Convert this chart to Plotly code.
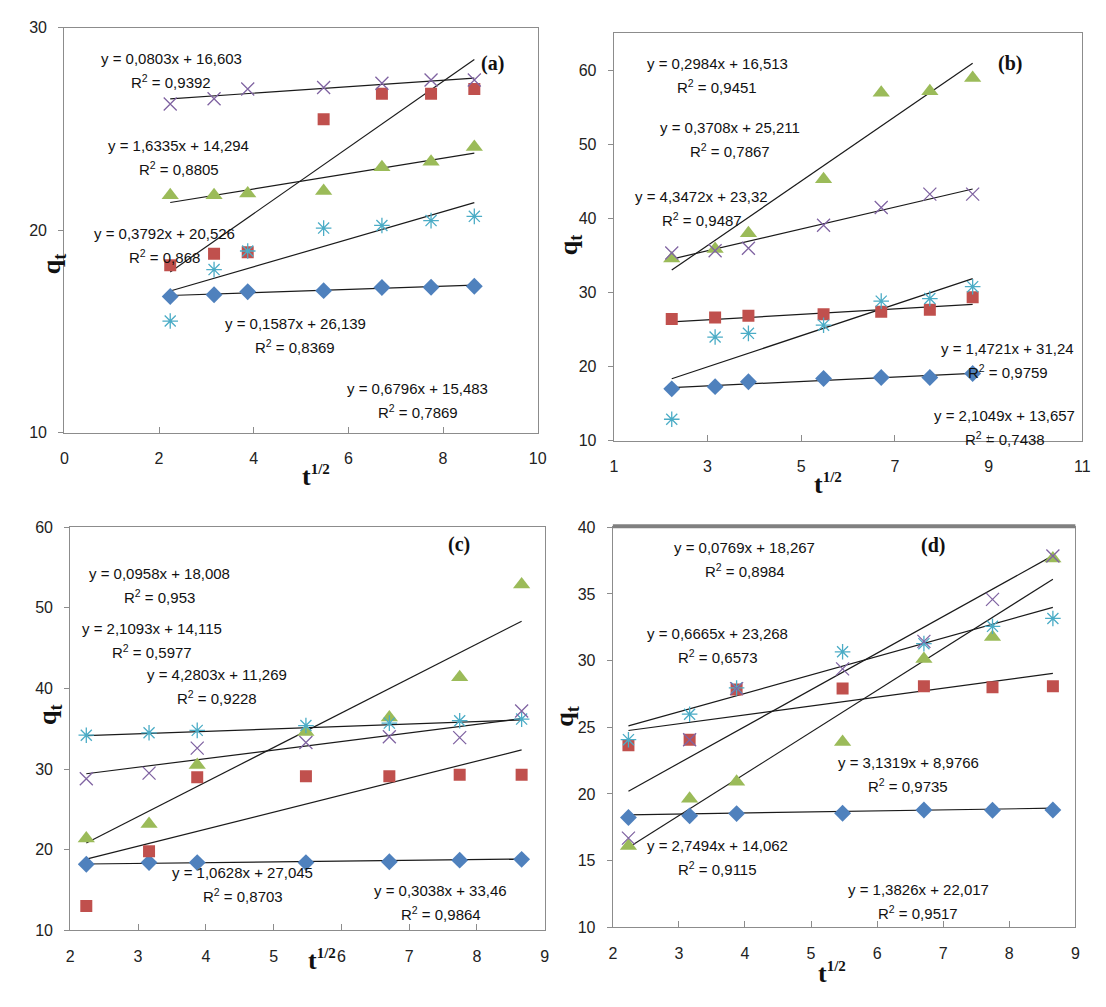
import plotly.graph_objects as go

W, H = 1106, 1007

# ---------------- data ----------------
x_sqrt_t = [2.236, 3.162, 3.873, 5.477, 6.708, 7.746, 8.660]
series_names = ["s1", "s2", "s3", "s4", "s5"]

# panel (a)
a_blue = [16.73, 16.82, 16.97, 17.02, 17.18, 17.19, 17.24]
a_red = [18.27, 18.84, 18.92, 25.48, 26.74, 26.74, 26.98]
a_green = [21.73, 21.73, 21.82, 21.94, 23.11, 23.39, 24.11]
a_cyan = [15.52, 18.06, 18.98, 20.11, 20.24, 20.48, 20.69]
a_purple = [26.24, 26.50, 26.98, 27.05, 27.26, 27.42, 27.42]
a_slope = [0.0803, 1.6335, 0.3792, 0.6796, 0.1587]
a_inter = [16.603, 14.294, 20.526, 15.483, 26.139]
a_r2 = [0.9392, 0.8805, 0.868, 0.7869, 0.8369]

# panel (b)
b_blue = [17.0, 17.3, 17.96, 18.4, 18.54, 18.54, 19.07]
b_red = [26.42, 26.64, 26.86, 27.08, 27.4, 27.7, 29.38]
b_green = [34.6, 35.9, 38.0, 45.3, 57.0, 57.2, 59.0]
b_cyan = [12.9, 24.0, 24.5, 25.6, 28.85, 29.2, 30.8]
b_purple = [35.35, 35.66, 36.0, 39.1, 41.5, 43.3, 43.3]
b_slope = [0.2984, 0.3708, 4.3472, 2.1049, 1.4721]
b_inter = [16.513, 25.211, 23.32, 13.657, 31.24]
b_r2 = [0.9451, 0.7867, 0.9487, 0.7438, 0.9759]

# panel (c)
c_blue = [18.2, 18.4, 18.4, 18.4, 18.5, 18.7, 18.8]
c_red = [13.0, 19.8, 29.0, 29.1, 29.1, 29.3, 29.3]
c_green = [21.4, 23.2, 30.5, 34.6, 36.4, 41.4, 52.9]
c_cyan = [34.2, 34.5, 34.8, 35.4, 35.7, 36.0, 36.2]
c_purple = [28.8, 29.5, 32.6, 33.3, 34.0, 33.9, 37.2]
c_slope = [0.0958, 2.1093, 4.2803, 0.3038, 1.0628]
c_inter = [18.008, 14.115, 11.269, 33.46, 27.045]
c_r2 = [0.953, 0.5977, 0.9228, 0.9864, 0.8703]

# panel (d)
d_blue = [18.24, 18.36, 18.53, 18.56, 18.8, 18.78, 18.8]
d_red = [23.65, 24.07, 27.83, 27.9, 28.07, 28.0, 28.07]
d_green = [16.1, 19.64, 20.92, 23.9, 30.12, 31.76, 37.66]
d_cyan = [24.07, 25.98, 27.95, 30.66, 31.27, 32.57, 33.16]
d_purple = [16.69, 24.07, 27.9, 29.38, 31.44, 34.59, 37.84]
d_slope = [0.0769, 0.6665, 3.1319, 1.3826, 2.7494]
d_inter = [18.267, 23.268, 8.9766, 22.017, 14.062]
d_r2 = [0.8984, 0.6573, 0.9735, 0.9517, 0.9115]

panel_labels = ["(a)", "(b)", "(c)", "(d)"]
x_tickvals = [[0, 2, 4, 6, 8, 10], [1, 3, 5, 7, 9, 11],
              [2, 3, 4, 5, 6, 7, 8, 9], [2, 3, 4, 5, 6, 7, 8, 9]]
y_tickvals = [[10, 20, 30], [10, 20, 30, 40, 50, 60],
              [10, 20, 30, 40, 50, 60], [10, 15, 20, 25, 30, 35, 40]]

# ---------------- layout / styles ----------------
x_ranges = [[0, 10], [1, 11], [2, 9], [2, 9]]
y_ranges = [[10, 30], [10, 65.1], [10, 60], [10, 40]]
# plot frames in pixels (left, right, top, bottom)
frames_px = [(53, 532, 12, 424), (609, 1083, 17, 432),
             (59, 539, 520, 930), (608, 1076, 520, 927)]

# label positions per series: (x fraction of frame, y data value)
label_pos = [
    [(0.226, 28.5), (0.242, 24.19), (0.212, 19.84), (0.746, 12.21), (0.488, 15.4)],
    [(0.221, 61.0), (0.247, 52.3), (0.188, 43.0), (0.834, 13.4), (0.841, 22.4)],
    [(0.189, 54.3), (0.173, 47.4), (0.31, 41.7), (0.781, 14.9), (0.364, 17.2)],
    [(0.285, 38.48), (0.227, 32.0), (0.639, 22.35), (0.66, 12.83), (0.227, 16.1)],
]
panel_label_pos = [(0.932, 28.23), (0.875, 61.0), (0.846, 57.8), (0.723, 38.65)]
qt_pos_px = [(24, 239), (564, 220), (20, 723), (561, 725)]
t_pos_px = [(291, 468), (842, 476), (297, 978), (846, 991)]

colors = ["#4F81BD", "#C0504D", "#9BBB59", "#4BACC6", "#8064A2"]
symbols = ["diamond", "square", "triangle-up", "asterisk-open", "x-thin-open"]
sizes = [13, 12, 15, 13, 13]

panels = [
    ([a_blue, a_red, a_green, a_cyan, a_purple], a_slope, a_inter, a_r2),
    ([b_blue, b_red, b_green, b_cyan, b_purple], b_slope, b_inter, b_r2),
    ([c_blue, c_red, c_green, c_cyan, c_purple], c_slope, c_inter, c_r2),
    ([d_blue, d_red, d_green, d_cyan, d_purple], d_slope, d_inter, d_r2),
]


def fmt(v):
    return repr(v).replace(".", ",")


fig = go.Figure()
annotations = []
shapes = []
axis_font = dict(family="Liberation Sans, Arial, sans-serif", size=16, color="#222")
eq_font = dict(family="Liberation Sans, Arial, sans-serif", size=15, color="#111")
serif = "Liberation Serif, Times New Roman, serif"

for i, (ys, slopes, inters, r2s) in enumerate(panels):
    xa = "x" if i == 0 else f"x{i+1}"
    ya = "y" if i == 0 else f"y{i+1}"
    l, r, t, b = frames_px[i]
    xdom = [l / W, r / W]
    ydom = [1 - b / H, 1 - t / H]
    axkey = "xaxis" if i == 0 else f"xaxis{i+1}"
    aykey = "yaxis" if i == 0 else f"yaxis{i+1}"
    fig.layout[axkey] = dict(
        domain=xdom, range=x_ranges[i], anchor=ya, tickvals=x_tickvals[i],
        showgrid=False, zeroline=False, showline=True, mirror=True,
        linecolor="#8c8c8c", linewidth=1.3, ticks="inside", ticklen=6,
        tickcolor="#8c8c8c", tickfont=axis_font, ticklabelstandoff=11,
    )
    fig.layout[aykey] = dict(
        domain=ydom, range=y_ranges[i], anchor=xa, tickvals=y_tickvals[i],
        showgrid=False, zeroline=False, showline=True, mirror=True,
        linecolor="#8c8c8c", linewidth=1.3, ticks="outside", ticklen=5,
        tickcolor="#8c8c8c", tickfont=axis_font, ticklabelstandoff=8,
    )
    # trend lines
    for k in range(5):
        xl = [x_sqrt_t[0], x_sqrt_t[-1]]
        yl = [slopes[k] * xv + inters[k] for xv in xl]
        fig.add_trace(go.Scatter(x=xl, y=yl, mode="lines", xaxis=xa, yaxis=ya,
                                 line=dict(color="#1a1a1a", width=1.2),
                                 showlegend=False, hoverinfo="skip"))
    # markers
    for k in range(5):
        open_sym = symbols[k].endswith("open")
        fig.add_trace(go.Scatter(
            x=x_sqrt_t, y=ys[k], mode="markers", xaxis=xa, yaxis=ya,
            name=series_names[k], showlegend=False,
            marker=dict(symbol=symbols[k], size=sizes[k], color=colors[k],
                        line=dict(color=colors[k], width=1.3 if open_sym else 0)),
        ))
    # equation labels
    for k in range(5):
        fx, fy = label_pos[i][k]
        eq = f"y = {fmt(slopes[k])}x + {fmt(inters[k])}"
        annotations.append(dict(text=eq, xref=f"{xa} domain", yref=ya, x=fx, y=fy,
                                showarrow=False, font=eq_font, xanchor="center",
                                yanchor="middle"))
        annotations.append(dict(text=f"R<sup>2</sup> = {fmt(r2s[k])}",
                                xref=f"{xa} domain", yref=ya, x=fx, y=fy, yshift=-23,
                                showarrow=False, font=eq_font, xanchor="center",
                                yanchor="middle"))
    px_, py_ = panel_label_pos[i]
    annotations.append(dict(text=f"<b>{panel_labels[i]}</b>", xref=f"{xa} domain", yref=ya,
                            x=px_, y=py_, showarrow=False,
                            font=dict(family=serif, size=20, color="#111")))
    qx, qy = qt_pos_px[i]
    annotations.append(dict(text="<b>q<sub>t</sub></b>", xref="paper", yref="paper",
                            x=qx / W, y=1 - qy / H, showarrow=False, textangle=-90,
                            font=dict(family=serif, size=26, color="#111")))
    tx, ty = t_pos_px[i]
    annotations.append(dict(
        text="<b>t<sup><span style='font-size:15px'>1/2</span></sup></b>",
        xref="paper", yref="paper", x=tx / W, y=1 - ty / H, showarrow=False,
        font=dict(family=serif, size=26, color="#111")))

# thick grey top border of panel (d)
l, r, t, b = frames_px[3]
shapes.append(dict(type="line", xref="paper", yref="paper", x0=l / W, x1=r / W,
                   y0=1 - (t - 1) / H, y1=1 - (t - 1) / H,
                   line=dict(color="#808080", width=4)))

fig.update_layout(width=W, height=H, margin=dict(l=0, r=0, t=0, b=0),
                  paper_bgcolor="white", plot_bgcolor="white",
                  annotations=annotations, shapes=shapes, showlegend=False)
fig.write_html("out.html")
